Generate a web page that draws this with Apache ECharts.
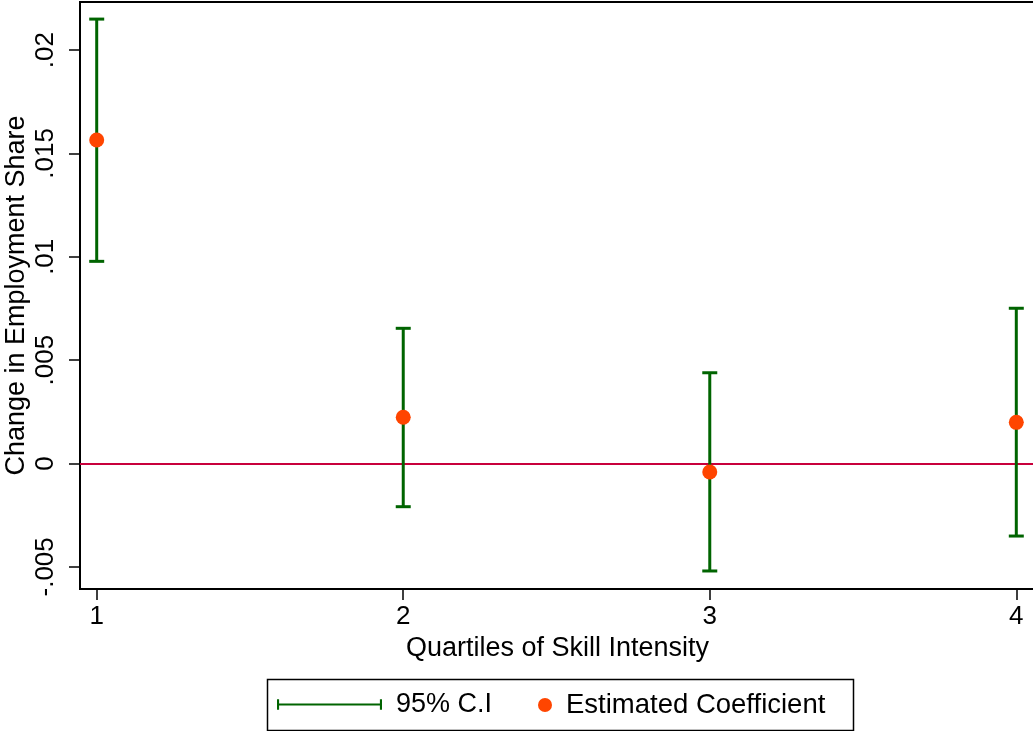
<!DOCTYPE html>
<html>
<head>
<meta charset="utf-8">
<script src="https://cdn.jsdelivr.net/npm/echarts@6/dist/echarts.min.js"></script>
<style>html,body{margin:0;padding:0;background:#fff;}#c{width:1033px;height:731px;}</style>
</head>
<body>
<div id="c"></div>
<script>
const quartiles = [1, 2, 3, 4];
const coefficients = [0.01565, 0.00224, -0.00041, 0.00199];
const ciLower = [0.00978, -0.00209, -0.00520, -0.00351];
const ciUpper = [0.02150, 0.00654, 0.00439, 0.00751];
const yTickValues = [-0.005, 0, 0.005, 0.01, 0.015, 0.02];
const yTickLabels = ['-.005', '0', '.005', '.01', '.015', '.02'];
const xTickValues = [1, 2, 3, 4];
const xTickLabels = ['1', '2', '3', '4'];

const FONT = 'Liberation Sans, Arial, sans-serif';
const GREEN = '#006400';
const ORANGE = '#ff4500';
const RED = '#c8003c';

const ciData = quartiles.map((q, i) => [q, ciLower[i], ciUpper[i]]);
const ptData = quartiles.map((q, i) => [q, coefficients[i]]);

const chart = echarts.init(document.getElementById('c'), null, {renderer: 'canvas'});
chart.setOption({
  animation: false,
  backgroundColor: '#fff',
  textStyle: {fontFamily: FONT, color: '#000'},
  grid: {left: 80, top: 2, right: -2, bottom: 142, show: true, borderColor: '#000', borderWidth: 2,
    containLabel: false, outerBoundsMode: 'none'},
  xAxis: {
    type: 'value', min: 0.9455, max: 4.061,
    name: 'Quartiles of Skill Intensity', nameLocation: 'middle', nameGap: 46, nameMoveOverlap: false,
    nameTextStyle: {fontSize: 27, fontFamily: FONT, color: '#000'},
    splitLine: {show: false},
    axisLine: {show: true, onZero: false, lineStyle: {color: '#000', width: 2}},
    axisTick: {show: true, length: 11, customValues: xTickValues, lineStyle: {color: '#000', width: 1.5}},
    axisLabel: {fontSize: 26, fontFamily: FONT, color: '#000', margin: 15, customValues: xTickValues,
      formatter: v => xTickLabels[xTickValues.indexOf(v)] ?? ''}
  },
  yAxis: {
    type: 'value', min: -0.006072, max: 0.022327,
    name: 'Change in Employment Share', nameLocation: 'middle', nameGap: 50, nameRotate: 90, nameMoveOverlap: false,
    nameTextStyle: {fontSize: 27, fontFamily: FONT, color: '#000'},
    splitLine: {show: false},
    axisLine: {show: true, onZero: false, lineStyle: {color: '#000', width: 2}},
    axisTick: {show: true, length: 11, customValues: yTickValues, lineStyle: {color: '#000', width: 1.5}},
    axisLabel: {fontSize: 26, fontFamily: FONT, color: '#000', margin: 21, rotate: 90, customValues: yTickValues,
      formatter: v => {
        let best = 0, d = Infinity;
        yTickValues.forEach((t, i) => { if (Math.abs(t - v) < d) { d = Math.abs(t - v); best = i; } });
        return yTickLabels[best];
      }}
  },
  legend: [
    {
      data: ['95% C.I'], left: 277, top: 691, padding: 0, orient: 'horizontal',
      itemWidth: 105, itemHeight: 11,
      icon: 'path://M0,0 h2 v10 h-2 z M0,4 h100 v2 h-100 z M98,0 h2 v10 h-2 z',
      textStyle: {fontSize: 27, fontFamily: FONT, color: '#000', padding: [0, 0, 0, 9]}
    },
    {
      data: ['Estimated Coefficient'], left: 538, top: 691, padding: 0,
      itemWidth: 14, itemHeight: 14, icon: 'circle',
      itemStyle: {opacity: 1},
      textStyle: {fontSize: 27.5, fontFamily: FONT, color: '#000', padding: [0, 0, 0, 9]}
    }
  ],
  graphic: [{
    type: 'rect', left: 265, top: 677, shape: {width: 586, height: 51},
    style: {fill: 'none', stroke: '#000', lineWidth: 1.5}, silent: true
  }],
  series: [
    {
      name: '95% C.I', type: 'custom', data: ciData,
      itemStyle: {color: GREEN},
      encode: {x: 0, y: [1, 2]},
      renderItem: (params, api) => {
        const x = api.value(0);
        const lo = api.coord([x, api.value(1)]);
        const hi = api.coord([x, api.value(2)]);
        const h = 7.5;
        const st = {stroke: GREEN, lineWidth: 3};
        return {type: 'group', children: [
          {type: 'line', shape: {x1: lo[0], y1: lo[1], x2: hi[0], y2: hi[1]}, style: st},
          {type: 'line', shape: {x1: hi[0] - h, y1: hi[1], x2: hi[0] + h, y2: hi[1]}, style: st},
          {type: 'line', shape: {x1: lo[0] - h, y1: lo[1], x2: lo[0] + h, y2: lo[1]}, style: st}
        ]};
      },
      z: 2
    },
    {
      name: 'Estimated Coefficient', type: 'scatter', data: ptData,
      symbol: 'circle', symbolSize: 15, itemStyle: {color: ORANGE, opacity: 1},
      z: 4,
      markLine: {
        silent: true, symbol: 'none', label: {show: false},
        lineStyle: {color: RED, width: 2, type: 'solid', opacity: 1},
        data: [{yAxis: 0}], z: 1
      }
    }
  ]
});
</script>
</body>
</html>
